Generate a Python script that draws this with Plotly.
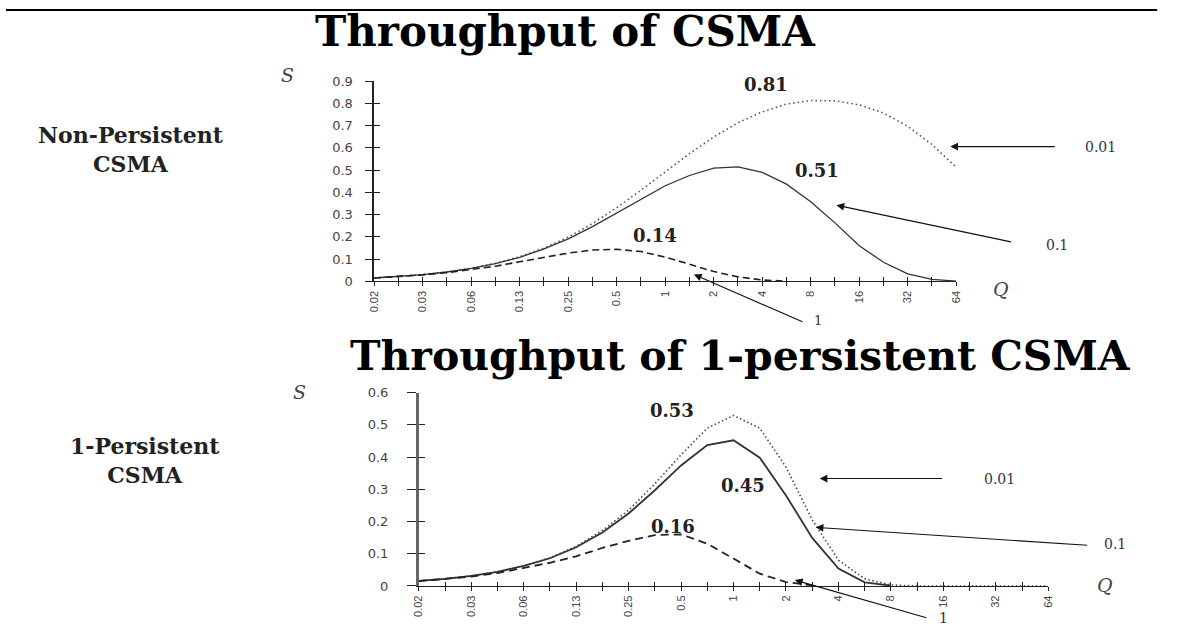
import math
import plotly.graph_objects as go

# ---------------- data ----------------
# offered load G (half-octave steps, labelled every octave)
q = [0.015625, 0.0221, 0.03125, 0.0442, 0.0625, 0.0884, 0.125, 0.1768, 0.25, 0.3536,
     0.5, 0.7071, 1, 1.414, 2, 2.828, 4, 5.657, 8, 11.31, 16, 22.63, 32, 45.25, 64]
q_labels = ["0.02", "", "0.03", "", "0.06", "", "0.13", "", "0.25", "", "0.5", "", "1", "",
            "2", "", "4", "", "8", "", "16", "", "32", "", "64"]

# Non-persistent CSMA, a = 0.01 / 0.1 / 1
np_a001 = [0.015, 0.021, 0.030, 0.042, 0.059, 0.081, 0.111, 0.150, 0.199, 0.260, 0.331, 0.410,
           0.493, 0.574, 0.649, 0.713, 0.762, 0.797, 0.813, 0.812, 0.794, 0.757, 0.697, 0.615, 0.513]
np_a01 = [0.015, 0.021, 0.030, 0.042, 0.058, 0.080, 0.108, 0.146, 0.191, 0.246, 0.307, 0.370,
          0.430, 0.476, 0.509, 0.515, 0.490, 0.437, 0.358, 0.263, 0.160, 0.086, 0.034, 0.009, 0.001]
np_a1 = [0.015, 0.021, 0.029, 0.039, 0.052, 0.068, 0.088, 0.108, 0.127, 0.141, 0.144, 0.134,
         0.109, 0.077, 0.044, 0.020, 0.006, 0.001]

# 1-persistent CSMA, a = 0.01 / 0.1 / 1
p1_a001 = [0.016, 0.022, 0.031, 0.044, 0.062, 0.087, 0.123, 0.172, 0.235, 0.317, 0.407, 0.490,
           0.529, 0.490, 0.369, 0.205, 0.080, 0.022, 0.003, 0, 0, 0, 0, 0, 0]
p1_a01 = [0.016, 0.022, 0.031, 0.044, 0.062, 0.086, 0.120, 0.166, 0.225, 0.297, 0.374, 0.437,
          0.452, 0.398, 0.281, 0.149, 0.054, 0.011, 0.001]
p1_a1 = [0.015, 0.021, 0.029, 0.040, 0.055, 0.072, 0.092, 0.118, 0.140, 0.158, 0.160, 0.131,
         0.085, 0.038, 0.012, 0.002]

top_yticks = [0, 0.1, 0.2, 0.3, 0.4, 0.5, 0.6, 0.7, 0.8, 0.9]
top_ylabels = ["0", "0.1", "0.2", "0.3", "0.4", "0.5", "0.6", "0.7", "0.8", "0.9"]
bot_yticks = [0, 0.1, 0.2, 0.3, 0.4, 0.5, 0.6]
bot_ylabels = ["0", "0.1", "0.2", "0.3", "0.4", "0.5", "0.6"]

# ---------------- layout helpers ----------------
W, H = 1182, 633


def px(x):
    return x / W


def py(y):
    return 1 - y / H


xr = [math.log10(q[0]), math.log10(q[-1])]
ink = "#222222"
tickfont = dict(family="DejaVu Sans", size=13, color="#444444")
xtickfont = dict(family="Liberation Sans", size=11, color="#444444")

fig = go.Figure()

# ---- top chart traces ----
fig.add_trace(go.Scatter(x=q, y=np_a001, mode="lines", xaxis="x", yaxis="y",
                         line=dict(color="#555555", width=1.6, dash="1.5px,3px")))
fig.add_trace(go.Scatter(x=q, y=np_a01, mode="lines", xaxis="x", yaxis="y",
                         line=dict(color="#333333", width=1.3)))
fig.add_trace(go.Scatter(x=q[:len(np_a1)], y=np_a1, mode="lines", xaxis="x", yaxis="y",
                         line=dict(color="#222222", width=1.6, dash="7px,4px")))

# ---- bottom chart traces ----
fig.add_trace(go.Scatter(x=q, y=p1_a001, mode="lines", xaxis="x2", yaxis="y2",
                         line=dict(color="#444466", width=1.6, dash="1.5px,2.5px")))
fig.add_trace(go.Scatter(x=q[:len(p1_a01)], y=p1_a01, mode="lines", xaxis="x2", yaxis="y2",
                         line=dict(color="#333333", width=1.8)))
fig.add_trace(go.Scatter(x=q[:len(p1_a1)], y=p1_a1, mode="lines", xaxis="x2", yaxis="y2",
                         line=dict(color="#222222", width=1.8, dash="8px,5px")))

# invisible traces on twin axes that draw the inner half of the crossing ticks
for xa, ya in (("x3", "y3"), ("x4", "y4")):
    fig.add_trace(go.Scatter(x=q[:1], y=[0], mode="markers", xaxis=xa, yaxis=ya,
                             marker=dict(size=1, opacity=0), hoverinfo="skip"))

top_xdom = [px(372), px(960)]
top_ydom = [py(281), py(76)]
bot_xdom = [px(417), px(1053)]
bot_ydom = [py(593), py(395)]

base_x = dict(type="log", range=xr, tickmode="array", tickvals=q, ticktext=q_labels,
              tickangle=-90, tickfont=xtickfont, ticks="outside", ticklen=4, tickwidth=1.2,
              tickcolor=ink, showline=True, linecolor=ink, linewidth=1.3, showgrid=False,
              zeroline=False, fixedrange=True)
inner_x = dict(type="log", range=xr, tickmode="array", tickvals=q, showticklabels=False,
               ticks="inside", ticklen=4, tickwidth=1.2, tickcolor=ink, showline=False,
               showgrid=False, zeroline=False)

fig.update_layout(
    width=W, height=H, margin=dict(l=0, r=0, t=0, b=0), autosize=False,
    paper_bgcolor="white", plot_bgcolor="rgba(0,0,0,0)", showlegend=False,
    xaxis=dict(base_x, domain=top_xdom, anchor="y"),
    yaxis=dict(domain=top_ydom, anchor="x", range=[0, 0.9], tickmode="array",
               tickvals=top_yticks, ticktext=top_ylabels, tickfont=tickfont,
               ticks="outside", ticklen=7, tickwidth=1.2, tickcolor=ink,
               ticklabelstandoff=10, showline=True, linecolor=ink, linewidth=1.5,
               showgrid=False, zeroline=False),
    xaxis2=dict(base_x, domain=bot_xdom, anchor="y2"),
    yaxis2=dict(domain=bot_ydom, anchor="x2", range=[0, 0.6], tickmode="array",
                tickvals=bot_yticks, ticktext=bot_ylabels, tickfont=tickfont,
                ticks="outside", ticklen=9, tickwidth=1.2, tickcolor=ink,
                ticklabelstandoff=16, showline=True, linecolor="#666666", linewidth=2.6,
                showgrid=False, zeroline=False),
    xaxis3=dict(inner_x, domain=top_xdom, anchor="y3"),
    yaxis3=dict(domain=top_ydom, anchor="x3", range=[0, 0.9], tickmode="array",
                tickvals=top_yticks, showticklabels=False, ticks="inside", ticklen=6,
                tickwidth=1.2, tickcolor=ink, showline=False, showgrid=False,
                zeroline=False),
    xaxis4=dict(inner_x, domain=bot_xdom, anchor="y4"),
    yaxis4=dict(domain=bot_ydom, anchor="x4", range=[0, 0.6], tickmode="array",
                tickvals=bot_yticks, showticklabels=False, ticks="inside", ticklen=6,
                tickwidth=1.2, tickcolor=ink, showline=False, showgrid=False,
                zeroline=False),
)

# top rule
fig.add_shape(type="line", xref="paper", yref="paper", x0=0, x1=px(1163), y0=py(3), y1=py(3),
              line=dict(color="black", width=2))

serif = "DejaVu Serif"


def text(x, y, s, size, bold=False, italic=False, color="#111111", family=serif):
    fig.add_annotation(x=px(x), y=py(y), xref="paper", yref="paper", text=s, showarrow=False,
                       xanchor="center", yanchor="middle",
                       font=dict(family=family, size=size, color=color,
                                 weight="bold" if bold else "normal",
                                 style="italic" if italic else "normal"))


def arrow(hx, hy, tx, ty):
    fig.add_annotation(x=px(hx), y=py(hy), xref="paper", yref="paper", text="",
                       showarrow=True, axref="pixel", ayref="pixel", ax=tx - hx, ay=ty - hy,
                       arrowhead=2, arrowsize=1.4, arrowwidth=1.1, arrowcolor="#111111",
                       standoff=0)


# titles
text(565, 25, "Throughput of CSMA", 42, bold=True, color="black")
text(742, 357, "Throughput of 1-persistent CSMA", 41, bold=True, color="black")

# side labels
text(126, 146, "Non-Persistent<br>CSMA", 22, bold=True, color="#222222")
text(140, 464, "1-Persistent<br>CSMA", 22, bold=True, color="#222222")

# axis letters
text(284, 70, "S", 19, italic=True, color="#444444")
text(1005, 289, "Q", 19, italic=True, color="#444444")
text(297, 394, "S", 19, italic=True, color="#444444")
text(1110, 592, "Q", 19, italic=True, color="#444444")

# top chart peak values and curve labels
text(768, 79, "0.81", 18, bold=True, color="#222222")
text(819, 167, "0.51", 18, bold=True, color="#222222")
text(656, 234, "0.14", 18, bold=True, color="#222222")
text(1106, 143, "0.01", 14, color="#333333")
text(1062, 244, "0.1", 14, color="#333333")
text(820, 321, "1", 13, color="#333333")
arrow(954, 143, 1060, 143)
arrow(839, 203, 1015, 240)
arrow(695, 274, 805, 322)

# bottom chart peak values and curve labels
text(673, 413, "0.53", 18, bold=True, color="#222222")
text(745, 490, "0.45", 18, bold=True, color="#222222")
text(674, 532, "0.16", 18, bold=True, color="#222222")
text(1004, 483, "0.01", 14, color="#333333")
text(1120, 550, "0.1", 14, color="#333333")
text(947, 626, "1", 14, color="#333333")
arrow(822, 483, 946, 483)
arrow(818, 533, 1091, 551)
arrow(797, 587, 930, 625)

fig.write_html("out.html", post_script="document.body.style.margin='0';",
               config={"displayModeBar": False})
